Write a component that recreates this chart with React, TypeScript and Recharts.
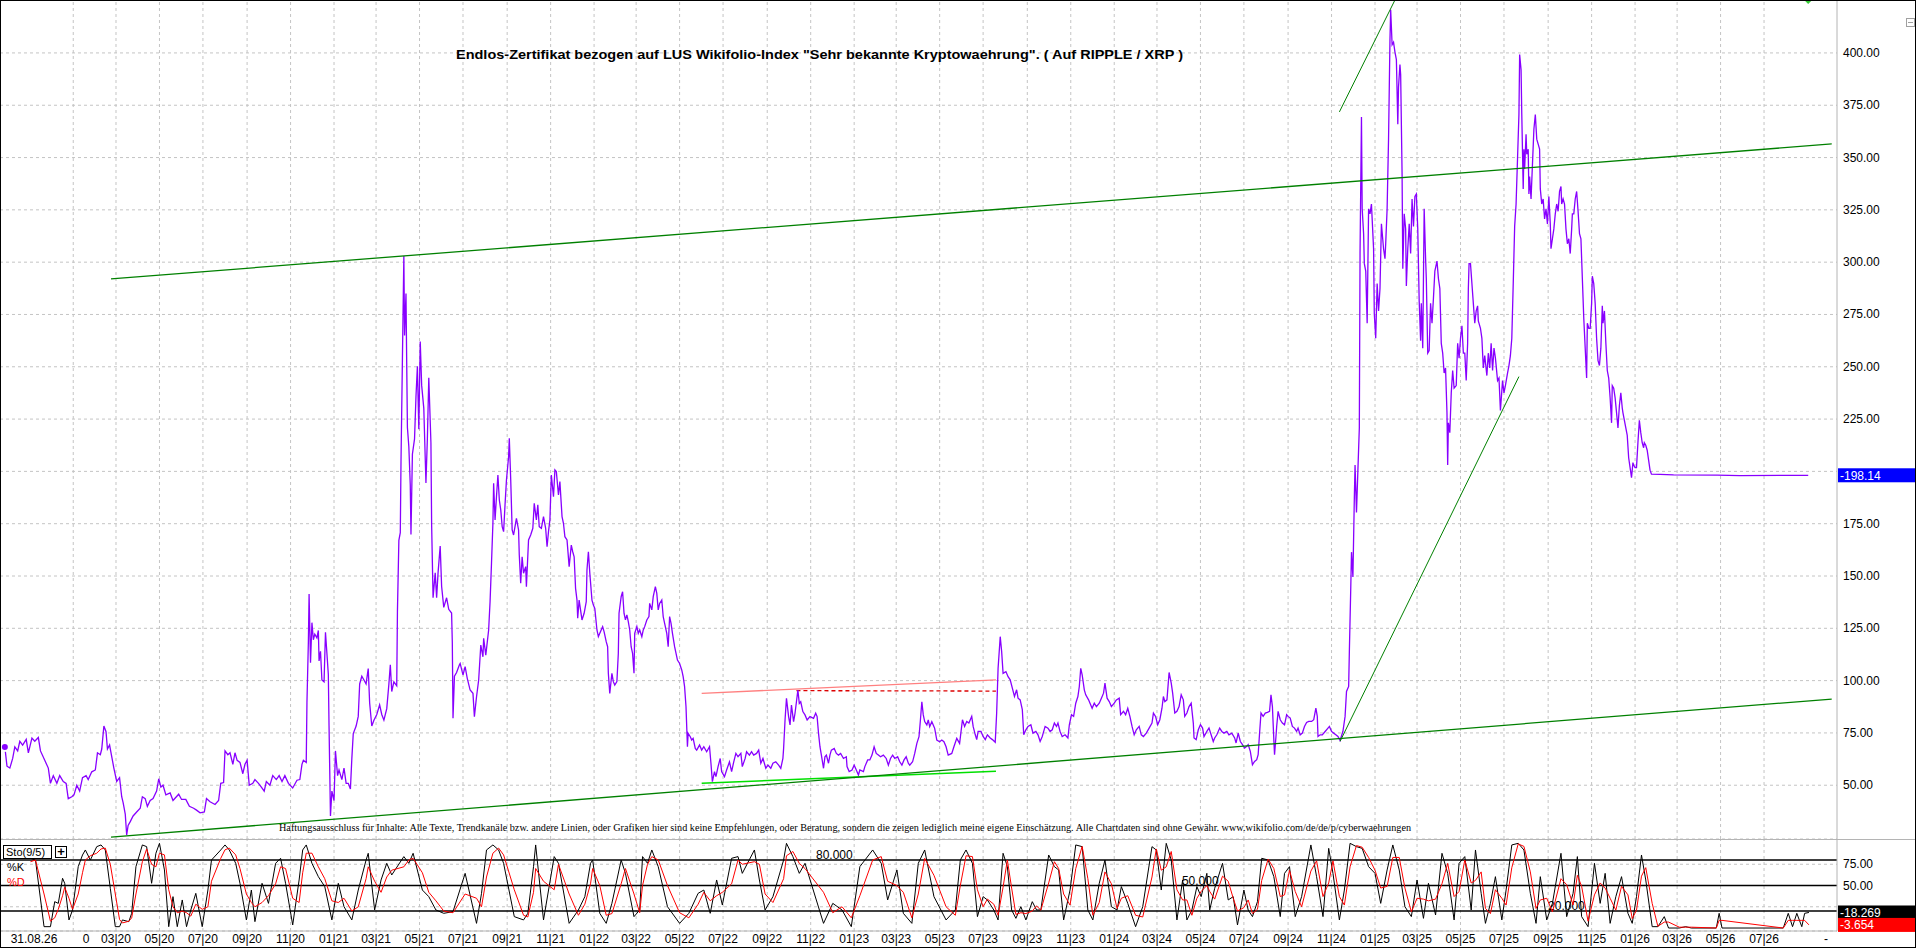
import React from "react";
import { LineChart, Line, XAxis, YAxis, CartesianGrid, ReferenceLine, ReferenceDot } from "recharts";

const W = 1916;
const MAIN_H = 839;
const STO_H = 109;
const AXIS_W = 79;
const FONT = '"Liberation Sans", Arial, sans-serif';

// x = days since 01.03.2020
const X_DOMAIN: [number, number] = [-162.8, 2415.4];
const PRICE_DOMAIN: [number, number] = [24.3, 425.3];
const STO_DOMAIN: [number, number] = [-3.5, 104.7];

const PRICE_TICKS = [50, 75, 100, 125, 150, 175, 200, 225, 250, 275, 300, 325, 350, 375, 400];
const STO_TICKS = [50, 75];
const LAST_PRICE = 198.14;
const LAST_K = 18.269;
const LAST_D = 3.654;

const MONTH_TICKS = [
  "03|20", "05|20", "07|20", "09|20", "11|20",
  "01|21", "03|21", "05|21", "07|21", "09|21", "11|21",
  "01|22", "03|22", "05|22", "07|22", "09|22", "11|22",
  "01|23", "03|23", "05|23", "07|23", "09|23", "11|23",
  "01|24", "03|24", "05|24", "07|24", "09|24", "11|24",
  "01|25", "03|25", "05|25", "07|25", "09|25", "11|25",
  "01|26", "03|26", "05|26", "07|26",
];
const EXTRA_TICKS: [number, string][] = [[-115, "31.08.26"], [-42, "0"], [2400, "-"]];

const TITLE = 'Endlos-Zertifikat bezogen auf LUS Wikifolio-Index "Sehr bekannte Kryptowaehrung". ( Auf RIPPLE / XRP )';
const DISCLAIMER =
  "Haftungsausschluss für Inhalte: Alle Texte, Trendkanäle bzw. andere Linien, oder Grafiken hier sind keine Empfehlungen, oder Beratung, sondern die zeigen lediglich meine eigene Einschätzung. Alle Chartdaten sind ohne Gewähr. www.wikifolio.com/de/de/p/cyberwaehrungen";

// price [day, value]
const price2019to21: [number, number][] = [
  [-156,68.3],[-153,59.1],[-149,58.2],[-145,62.8],[-142,68.3],[-138,66.4],[-135,71],[-131,69.2],[-126,71.9],[-123,65.5],
  [-118,72.5],[-114,71],[-109,72.8],[-106,66.4],[-100,61.9],[-95,58.2],[-92,50.9],[-88,54.6],[-83,50.9],[-79,54.6],
  [-74,51.8],[-70,50.9],[-67,43.6],[-62,44.5],[-59,45.4],[-55,50],[-51,47.2],[-47,53.6],[-42,54.6],[-39,52.7],
  [-34,56.4],[-29,57.3],[-26,65.5],[-22,64.6],[-20,67.3],[-17,78.3],[-14,75.6],[-12,67.3],[-9,69.2],[-6,63.7],
  [-3,58.2],[1,51.8],[5,53.6],[8,44.5],[10,41.7],[13,36.2],[15,26.2],[17,30.8],[20,32.6],[24,35.3],
  [29,37.2],[34,39],[37,44.5],[41,43.6],[44,39.9],[48,42.7],[52,43.6],[57,47.2],[60,53.1],[63,49.1],
  [66,50],[70,45.4],[76,46.3],[80,42.7],[88,45.7],[92,43.2],[98,43.2],[103,39.9],[109,39],[113,38.1],
  [118,36.8],[124,37.2],[127,43.6],[132,42.1],[139,40.8],[144,42.7],[147,50.9],[151,51.3],[153,66.4],[157,64.6],
  [160,65.5],[164,60],[167,65.5],[170,61.9],[174,60.9],[178,55.5],[181,60],[184,61.9],[187,50],[192,50.9],
  [195,52.7],[200,50.9],[204,49.1],[208,47.2],[211,51.8],[216,50],[220,54.6],[225,52.7],[229,54.6],[233,51.8],
  [237,54.6],[242,50.9],[248,48.7],[254,52.4],[258,52.7],[261,60],[263,61.9],[267,60.9],[268,89.3],[270,118.6],
  [271,141.4],[273,108.5],[275,127.7],[277,119.5],[279,122.2],[282,120.4],[284,124],[285,109.4],[287,114],[289,100.3],
  [292,99.4],[294,123.1],[296,113.1],[298,103],[299,78.3],[301,35.3],[303,47.2],[306,42.7],[308,66.4],[311,54.6],
  [313,57.3],[317,52.7],[320,58.2],[323,50.9],[326,50.9],[329,48.2],[331,62.8],[333,74.7],[337,78.3],[340,82.9],
  [342,98.4],[345,102.1],[348,100.3],[351,98.4],[354,105.8],[356,89.3],[359,78.3],[362,81.1],[366,83.8],[370,88.4],
  [373,83.8],[376,81.1],[380,86.6],[383,98.4],[385,107.6],[387,94.8],[390,99.4],[394,97.5],[395,133.2],[397,167],
  [399,170.7],[400,204.5],[402,253.9],[404,302.9],[405,264.9],[407,285],[408,252.1],[409,221],[411,211.8],[413,193.5],
  [414,169.8],[416,208.2],[419,215.5],[421,235.6],[423,250.2],[425,220.1],[427,262.1],[429,241.1],[432,230.1],[435,194.5],
  [437,215.5],[439,244.8],[442,213.7],[443,174.3],[445,139.6],[448,151.5],[450,139.6],[452,151.5],[455,164.3],[457,145.1],
  [460,135],[464,139.6],[467,134.1],[471,132.3],[472,118.6],[473,82],[475,102.1],[478,103.9],[482,107.6],
];

const price2021to23: [number, number][] = [
  [483,108.2],[487,102.7],[490,106.7],[493,101.1],[497,95.5],[501,93.9],[503,82.8],[506,92.3],[509,100.3],[512,117],
  [515,111.4],[516,120.2],[519,112.2],[523,124.2],[525,137.7],[527,156],[529,175.2],[530,194.3],[532,176.8],[534,187.9],
  [536,198.3],[538,186.3],[540,181.6],[542,173.6],[544,171.2],[546,184],[548,195.9],[551,207],[552,215.8],[554,195.9],
  [556,172],[558,169.6],[560,173.6],[562,177.6],[565,172],[566,160],[568,146.5],[570,159.2],[572,151.3],[575,154.5],
  [576,144.9],[579,167.2],[582,169.6],[585,172.8],[587,184.7],[590,176.8],[592,184],[594,173.6],[597,172.8],[600,178.4],
  [603,172.8],[605,164],[607,171.2],[609,176.8],[611,198.3],[614,187.9],[616,200.7],[618,199.9],[621,188.7],[623,195.1],
  [626,178.4],[628,175.2],[630,168.8],[633,167.2],[636,154.5],[639,164.8],[641,161.6],[643,159.2],[645,144.1],[647,138.5],
  [648,129.8],[650,138.5],[654,129],[657,132.2],[660,137.7],[661,152.9],[663,161.6],[665,151.3],[668,138.5],[670,136.1],
  [672,134.5],[675,124.2],[677,121],[679,122.6],[683,125.8],[685,123.4],[688,118.6],[690,116.2],[691,103.5],[693,93.9],
  [696,103.5],[698,99.5],[700,97.9],[703,99.5],[705,113],[706,132.2],[709,140.1],[711,142.5],[713,132.2],[715,129],
  [717,131.4],[719,128.2],[721,124.2],[723,116.2],[725,113],[727,103.5],[728,122.6],[731,125.8],[733,122.6],[735,124.2],
  [738,121],[740,124.2],[742,125.8],[745,129],[748,130.6],[749,136.9],[752,133.8],[754,140.1],[757,144.9],[759,141.7],
  [761,133.8],[763,136.9],[766,138.5],[768,130.6],[770,127.4],[773,122.6],[775,116.2],[777,130.6],[779,127.4],[781,122.6],
  [784,116.2],[786,113],[788,109.8],[791,108.2],[794,105.1],[796,101.9],[798,97.1],[800,87.5],[802,68.4],[803,74.8],
  [806,73.2],[808,71.6],[810,72.4],[813,67.6],[815,66.8],[819,69.2],[822,66.8],[825,68.4],[829,66],[833,68.4],
  [835,60.5],[837,51.7],[840,56.5],[842,54.1],[845,58.9],[848,62.8],[850,56.5],[854,54.1],[857,57.3],[861,61.2],
  [864,56.5],[867,61.2],[870,65.2],[873,63.6],[877,65.2],[879,58.9],[883,62.8],[885,66],[889,64.4],[892,66],
  [895,64.4],[899,65.2],[902,66.8],[905,60.5],[908,62.8],[912,58.1],[915,59.6],[919,58.1],[922,60.5],[926,61.2],
  [930,59.6],[933,58.1],[936,62.8],[937,67.6],[939,81.2],[941,91.5],[944,82.8],[946,78.8],[948,88.3],[951,80.4],
  [953,84.4],[955,89.9],[957,95.5],[959,89.1],[961,89.9],[964,85.2],[967,83.6],[970,81.2],[974,82.8],[979,82],
  [982,84.4],[984,82.8],[986,74.8],[988,68.4],[990,64.4],[993,58.1],[995,63.6],[997,64.4],[1000,60.5],[1002,64.4],
  [1004,66.8],[1008,67.6],[1011,65.2],[1014,64.4],[1017,65.2],[1021,62.8],[1025,63.6],[1026,58.9],[1029,56.5],[1033,57.3],
  [1036,59.6],[1039,57.3],[1042,54.9],[1044,57.3],[1049,56.5],[1051,58.9],[1055,62.1],[1058,62.1],[1061,64.4],[1064,68.4],
  [1067,65.2],[1070,64.4],[1073,63.6],[1077,64.4],[1081,62.8],[1084,59.6],[1087,62.8],[1090,64.4],[1093,62.8],[1097,63.6],
  [1100,61.2],[1103,59.6],[1106,62.1],[1109,63.6],[1112,60.5],[1114,59.6],[1118,61.2],[1121,65.2],[1124,70],[1127,73.2],
  [1129,81.2],[1131,89.9],[1133,83.6],[1135,80.4],[1138,78.8],[1140,81.2],[1142,78],[1145,80.4],[1147,78.8],[1149,77.2],
  [1152,71.6],[1156,70.8],[1159,71.6],[1162,70.8],[1165,68.4],[1168,64.4],[1173,65.2],[1176,68.4],[1180,72.4],[1184,70],
];

const price2023to24: [number, number][] = [
  [1188,81.3],[1191,78.1],[1194,80.5],[1197,79.7],[1201,82.9],[1203,78.1],[1206,74.1],[1208,71.8],[1210,75.7],[1214,75.7],
  [1217,73.3],[1220,71.8],[1223,74.1],[1227,72.6],[1230,71.8],[1234,70.5],[1236,84.5],[1238,105.9],[1241,121],[1243,113.9],
  [1245,103.5],[1249,104.3],[1252,101.9],[1255,100.4],[1258,96.4],[1261,92.4],[1264,95.6],[1266,91.6],[1269,90.8],[1272,86.1],
  [1274,74.1],[1277,76.5],[1280,78.1],[1284,78.9],[1287,74.9],[1291,75.7],[1294,74.1],[1297,70.9],[1300,73.3],[1304,78.1],
  [1308,77.3],[1311,75.7],[1314,76.5],[1317,79.7],[1320,78.1],[1322,79.7],[1325,75.7],[1328,73.3],[1332,74.1],[1336,72.6],
  [1338,78.9],[1341,83.7],[1344,82.9],[1347,89.2],[1350,92.4],[1352,97.2],[1354,105.9],[1356,102.8],[1359,95.6],[1361,93.2],
  [1365,90.8],[1367,89.2],[1370,86.8],[1373,89.2],[1376,87.6],[1380,89.2],[1383,91.6],[1386,94],[1388,98.8],[1391,91.6],
  [1394,90],[1397,87.6],[1401,89.2],[1404,90.8],[1408,91.6],[1410,83.7],[1414,85.3],[1417,83.7],[1420,86.8],[1423,82.9],
  [1426,78.1],[1429,74.1],[1432,76.5],[1436,78.1],[1439,74.1],[1442,73.3],[1446,74.9],[1450,77.3],[1454,79.7],[1456,84.5],
  [1459,82.9],[1462,78.9],[1465,81.3],[1468,86.8],[1470,92.4],[1472,90],[1475,90.8],[1478,103.9],[1481,98.8],[1483,94],
  [1486,84.5],[1489,85.3],[1492,87.6],[1495,93.2],[1498,90.8],[1500,82.9],[1503,84.5],[1506,87.6],[1509,89.2],[1512,79.7],
  [1513,72.6],[1516,71.8],[1519,76.5],[1522,78.9],[1525,77.3],[1527,73.3],[1531,75.7],[1534,77.3],[1537,74.1],[1540,70.9],
  [1542,72.6],[1545,74.1],[1549,77.3],[1552,75.7],[1555,74.9],[1559,75.7],[1562,74.1],[1566,74.9],[1570,72.6],[1572,70.2],
  [1575,74.9],[1578,70.9],[1581,69.4],[1584,67.8],[1587,68.6],[1589,69.4],[1592,66.2],[1595,59.8],[1598,61.4],[1601,62.2],
  [1603,64.6],[1605,74.9],[1607,84.5],[1610,82.9],[1613,84.5],[1616,84.8],[1619,85.3],[1621,93.2],[1623,87.6],[1625,71.8],
  [1626,64.6],[1628,73.3],[1629,78.1],[1631,85.3],[1634,81.3],[1637,79.7],[1640,78.9],[1643,83.7],[1645,82.9],[1648,82.1],
  [1651,78.1],[1654,77.3],[1657,75.7],[1659,77.3],[1662,74.1],[1665,74.9],[1668,78.1],[1671,80],[1674,80.5],[1678,80.5],
  [1681,81.3],[1684,86.8],[1686,82.9],[1687,73.3],[1690,74.1],[1693,74.1],[1697,75.7],[1701,77.3],[1703,78.1],[1706,75.7],
  [1709,74.9],[1712,74.1],[1715,73.3],[1718,71.4],
];

const price2024to26: [number, number][] = [
  [1722,75.8],[1725,82.9],[1727,94.8],[1730,97.2],[1731,113.8],[1733,144.7],[1734,161.4],[1736,149.5],[1738,187.5],[1739,203],
  [1741,180.4],[1743,200.6],[1745,220.8],[1746,304.1],[1748,369.4],[1749,325.5],[1751,313.6],[1752,299.3],[1754,295.7],[1756,270.8],
  [1758,325.5],[1760,323.1],[1762,327.8],[1765,306.4],[1766,275.5],[1768,263.6],[1770,289.8],[1772,276.7],[1774,287.4],[1776,318.3],
  [1779,306.4],[1781,301.7],[1782,308.8],[1784,325.5],[1786,358.8],[1788,406.3],[1789,420.6],[1791,403.9],[1793,405.1],[1795,400.4],
  [1797,396.8],[1799,365.9],[1800,383.7],[1802,394.4],[1803,389.7],[1805,342.1],[1806,296.9],[1808,323.1],[1810,315.9],[1811,288.6],
  [1813,306.4],[1815,318.3],[1817,304.1],[1819,330.2],[1821,317.1],[1823,331.4],[1825,332.6],[1827,315.9],[1829,281.5],[1831,262.4],
  [1832,280.3],[1834,258.9],[1836,325.5],[1838,301.7],[1839,292.2],[1841,256.5],[1843,257.7],[1845,280.3],[1847,270.8],[1849,282.7],
  [1851,295.7],[1854,300.5],[1856,292.2],[1858,287.4],[1860,261.2],[1862,256.5],[1864,247],[1866,249.4],[1868,228],[1869,203],
  [1870,223.2],[1872,218.5],[1874,237.5],[1876,248.2],[1878,239.8],[1881,241],[1883,261.2],[1885,254.1],[1887,263.6],[1889,269.6],
  [1891,256.5],[1893,256.5],[1895,243.4],[1897,261.2],[1898,287.4],[1899,299.3],[1901,299.3],[1903,289.8],[1905,280.3],[1907,270.8],
  [1909,276.7],[1911,279.1],[1912,271.9],[1915,268.4],[1917,263.6],[1919,249.4],[1921,255.3],[1924,245.8],[1926,256.5],[1928,249.4],
  [1930,261.2],[1932,248.2],[1934,258.9],[1936,254.1],[1939,243.4],[1941,244.6],[1943,229.1],[1946,243.4],[1948,237.5],[1950,241],
  [1953,247],[1955,250.6],[1957,255.3],[1959,263.6],[1961,289.8],[1963,317.1],[1965,327.8],[1967,349.2],[1969,370.6],[1970,399.2],
  [1972,392],[1973,370.6],[1975,335],[1976,354],[1977,344.5],[1979,361.1],[1980,351.6],[1982,354],[1983,332.6],[1984,340.9],
  [1986,330.2],[1988,346.9],[1990,363.5],[1992,370.6],[1994,358.8],[1996,356.4],[1998,354],[1999,335],[2001,327.8],[2003,330.2],
  [2005,320.7],[2007,325.5],[2009,318.3],[2011,331.4],[2013,318.3],[2014,306.4],[2016,311.2],[2018,315.9],[2020,323.1],[2022,327.8],
  [2024,324.3],[2026,333.8],[2028,336.2],[2029,327.8],[2031,330.2],[2033,327.8],[2035,315.9],[2037,308.8],[2039,311.2],[2041,304.1],
  [2043,315.9],[2044,323.1],[2046,323.1],[2048,330.2],[2050,333.8],[2052,324.3],[2054,313.6],[2056,311.2],[2057,301.7],[2059,282.7],
  [2060,273.2],[2062,258.9],[2064,244.6],[2065,270.8],[2067,268.4],[2069,268.4],[2071,280.3],[2072,293.3],[2074,289.8],[2076,280.3],
  [2078,263.6],[2080,252.9],[2082,250.6],[2084,258.9],[2086,279.1],[2087,270.8],[2089,276.7],[2091,261.2],[2093,248.2],[2095,244.6],
  [2097,235.1],[2099,223.2],[2100,241],[2102,239.8],[2104,235.1],[2106,228],[2108,220.8],[2110,231.5],[2112,237.5],[2114,230.3],
  [2115,228],[2117,224.4],[2119,220.8],[2121,217.2],[2123,206.5],[2125,201.8],[2127,197],[2129,204.2],[2130,203],[2132,201.8],
  [2134,201.8],[2136,213.7],[2138,224.4],[2140,218.5],[2142,213.7],[2144,211.3],[2145,213.7],[2147,212.5],[2149,210.1],[2151,205.4],
  [2153,200.6],[2155,198.7],[2167,198.6],[2186,198.3],[2247,198.2],[2279,198.0],[2342,198.1],[2375,198.14],
];

// Sto(9/5): [day, %K, %D]
const stochRows: [number, number, number][] = [
  [-120,82,78],[-113,80,80],[-101,1.6,40],[-92,1.6,8],[-86,31,12],[-81,29,22],[-75,58.5,38],[-72,52.6,48],[-66,9.5,35],[-61,21.2,22],
  [-53,72.2,40],[-47,85.9,65],[-43,91.8,80],[-36,80,85],[-27,95.7,88],[-21,97.7,93],[-15,91.8,94],[-8,46.7,75],[-1,1.6,40],[5,1.6,10],
  [9,9.5,6],[18,7.5,8],[22,17.3,12],[28,72.2,40],[37,97.7,78],[43,95.7,93],[50,52.6,75],[56,87.9,72],[61,99.6,88],[68,68.3,86],
  [74,1.6,45],[80,36.9,25],[86,1.6,18],[93,33,20],[99,1.6,18],[105,21.2,14],[112,40.8,28],[121,1.6,22],[129,44.7,25],[134,80,55],
  [147,91.8,82],[153,97.7,92],[159,91.8,94],[168,76.1,86],[174,52.6,70],[183,9.5,40],[190,44.7,30],[195,7.5,25],[205,52.6,30],[214,29,38],
  [224,76.1,52],[231,82,72],[238,52.6,70],[248,3.6,35],[257,56.5,30],[262,91.8,65],[267,97.7,88],[275,76.1,88],[284,60.4,72],[293,48.7,58],
  [303,9.5,32],[312,52.6,30],[320,25.1,35],[331,9.5,20],[340,44.7,25],[351,80,58],[354,87.9,72],[363,21.2,55],[372,56.5,42],[380,76.1,60],
  [387,62.4,68],[404,84,72],[411,76.1,80],[417,87.9,82],[430,44.7,65],[439,36.9,42],[449,21.2,32],[460,17.3,20],[473,19.3,18],[490,64.3,40],
  [506,5.5,35],[513,40.8,25],[520,91.8,60],[529,97.7,88],[537,91.8,94],[544,76.1,86],[559,13.4,45],[572,9.5,15],[578,17.3,13],[586,72.2,42],
  [589,97.7,70],[600,9.5,55],[615,84,45],[621,76.1,75],[636,5.5,40],[649,21.2,15],[658,36.9,28],[666,76.1,52],[669,80,70],[679,17.3,50],
  [688,5.5,15],[696,29,17],[709,80,52],[715,64.3,70],[727,13.4,40],[735,21.2,18],[739,84,50],[746,76.1,75],[752,91.8,84],[761,72.2,80],
  [774,25.1,50],[791,5.5,18],[804,17.3,12],[817,40.8,28],[825,44.7,42],[834,17.3,32],[843,56.5,38],[851,27.1,42],[864,82,52],[873,84,80],
  [879,64.3,75],[896,91.8,78],[903,56.5,75],[911,21.2,40],[922,36.9,30],[937,80,58],[941,99.6,85],[950,84,90],[959,64.3,76],[967,76.1,70],
  [993,5.5,42],[1006,29,18],[1019,21.2,25],[1032,1.6,12],[1044,72.2,38],[1062,91.8,80],[1074,76.1,84],[1083,33,55],[1096,68.3,50],[1105,17.3,42],
  [1117,5.5,12],[1126,76.1,40],[1135,91.8,82],[1148,36.9,62],[1165,9.5,25],[1178,21.2,15],[1185,80,50],[1193,91.8,85],[1202,76.1,84],[1209,13.4,45],
  [1217,36.9,25],[1223,33,34],[1232,21.2,28],[1238,9.5,15],[1245,87.9,48],[1251,72.2,80],[1257,21.2,47],[1263,11.4,16],[1270,25.1,18],[1277,9.5,17],
  [1286,31,20],[1292,21.2,26],[1298,21.2,21],[1309,85.9,53],[1317,72.2,78],[1323,68.3,70],[1330,9.5,40],[1339,44.7,27],[1347,97.7,70],[1356,95.7,96],
  [1364,21.2,58],[1371,9.5,15],[1380,52.6,30],[1388,80,66],[1397,25.1,52],[1405,21.2,23],[1411,48.7,35],[1420,29,38],[1431,1.6,15],[1441,25.1,13],
  [1454,95.7,60],[1460,91.8,93],[1467,44.7,68],[1474,99.6,72],[1481,80,90],[1489,9.5,45],[1497,56.5,33],[1503,9.5,33],[1510,21.2,15],[1517,48.7,35],
  [1523,36.9,43],[1531,64.3,50],[1535,21.2,43],[1542,46.7,34],[1553,76.1,61],[1561,33,55],[1568,36.9,35],[1574,3.6,20],[1583,44.7,24],[1589,21.2,33],
  [1595,13.4,17],[1602,31,22],[1608,82,56],[1617,80,81],[1625,60.4,70],[1634,13.4,37],[1640,64.3,39],[1647,72.2,68],[1655,13.4,43],[1664,36.9,25],
  [1677,97.7,67],[1685,60.4,79],[1694,13.4,37],[1702,93.7,53],[1708,64.3,79],[1717,9.5,37],[1724,44.7,27],[1732,99.6,72],[1741,95.7,97],[1749,93.7,95],
  [1758,72.2,83],[1767,64.3,68],[1775,29,47],[1784,68.3,49],[1792,97.7,83],[1801,68.3,83],[1809,25.1,47],[1818,13.4,19],[1826,56.5,35],[1835,11.4,34],
  [1842,52.6,32],[1852,15.3,34],[1861,87.9,52],[1869,64.3,76],[1878,9.5,37],[1885,76.1,43],[1893,84,80],[1902,21.2,53],[1908,91.8,56],[1916,40.8,66],
  [1922,5.5,23],[1929,29,17],[1936,60.4,45],[1945,9.5,35],[1951,44.7,27],[1959,97.7,71],[1968,99.6,99],[1976,91.8,96],[1985,40.8,66],[1993,5.5,23],
  [1999,60.4,33],[2008,9.5,35],[2016,29,19],[2028,87.9,58],[2036,13.4,51],[2045,40.8,27],[2051,84,62],[2057,13.4,49],[2066,1.6,8],[2075,76.1,39],
  [2083,29,53],[2090,64.3,47],[2097,5.5,35],[2105,36.9,21],[2113,60.4,49],[2122,17.3,39],[2128,5.5,11],[2134,36.9,21],[2141,85.9,61],[2147,56.5,71],
  [2156,1.6,29],[2164,1.6,2],[2173,13.4,7],[2179,0,7],[2194,0,1],[2203,1.6,1],[2211,0,1],[2246,0,0],[2250,17.3,9],[2254,0,9],
  [2340,0,0],[2347,17.3,9],[2353,1.6,9],[2359,17.3,9],[2366,1.6,9],[2370,17.3,9],[2376,18.3,3.7],
];

// trend lines drawn on the chart: [[day, value], [day, value]]
const upperChannel = [[-7, 292.0], [2408, 356.5]];
const lowerChannel = [[-7, 25.2], [2408, 91.2]];
const rallySupport = [[1718, 71.0], [1969, 245.3]];
const rallyTop = [[1717, 371.8], [1795, 425.3]];
const baseLine2022 = [[822, 50.9], [1235, 56.7]];
const resistance2022 = [[822, 93.9], [1235, 100.4]];
const resistanceDotted = [[955, 95.2], [1235, 95.0]];

const dayOf = (label: string) => {
  const [mm, yy] = label.split("|").map(Number);
  return Math.round((Date.UTC(2000 + yy, mm - 1, 1) - Date.UTC(2020, 2, 1)) / 86400000);
};

const gridDays = ["01|20", ...MONTH_TICKS].map(dayOf);
const tickLabels = new Map<number, string>();
MONTH_TICKS.forEach((m) => tickLabels.set(dayOf(m), m));
EXTRA_TICKS.forEach(([d, l]) => tickLabels.set(d, l));
const xTicks = Array.from(tickLabels.keys()).sort((a, b) => a - b);

const priceData = [...price2019to21, ...price2021to23, ...price2023to24, ...price2024to26].map(([day, price]) => ({ day, price }));
const stochData = stochRows.map(([day, k, d]) => ({ day, k, d }));

const seg = (s: number[][]) => [{ x: s[0][0], y: s[0][1] }, { x: s[1][0], y: s[1][1] }];

const GRID = "#c4c4c4";

// axis label of a tick is hidden when the last-value box sits on top of it
const makeAxisTick = (covered: number[], near: number) => (p: any) => {
  const v = Number(p.payload.value);
  if (covered.some((c) => Math.abs(c - v) < near)) return <g />;
  return (
    <text x={p.x} y={p.y} dy={4} textAnchor="start" fontSize={12} fontFamily={FONT} fill="#000">
      {v.toFixed(2)}
    </text>
  );
};
const priceTick = makeAxisTick([LAST_PRICE], 6);
const stochTick = makeAxisTick([LAST_K, LAST_D], 6);

const xTick = (p: any) => (
  <text x={p.x} y={p.y} dy={10} textAnchor="middle" fontSize={12} fontFamily={FONT} fill="#000">
    {tickLabels.get(p.payload.value) ?? ""}
  </text>
);

const valueBox = (text: string, bg: string) => (p: any) => {
  const vb = p.viewBox;
  const x = vb.x + vb.width;
  return (
    <g>
      <rect x={x + 1} y={vb.y - 7} width={AXIS_W - 2} height={14} fill={bg} />
      <text x={x + 3} y={vb.y + 4.5} fontSize={12} fontFamily={FONT} fill="#fff">
        {"-" + text}
      </text>
    </g>
  );
};

const lineLabel = (text: string, frac: number) => (p: any) => {
  const vb = p.viewBox;
  return (
    <text x={vb.x + vb.width * frac} y={vb.y - 1} fontSize={12} fontFamily={FONT} fill="#000">
      {text}
    </text>
  );
};

export default function App() {
  return (
    <div style={{ position: "absolute", left: 0, top: 0, width: W, height: 948, background: "#fff", overflow: "hidden" }}>
      <div style={{ position: "absolute", left: 0, top: 0 }}>
        <LineChart width={W} height={MAIN_H} data={priceData} margin={{ top: 0, right: 0, bottom: 0, left: 0 }}>
          <XAxis type="number" dataKey="day" domain={X_DOMAIN} hide allowDataOverflow />
          <YAxis
            orientation="right"
            type="number"
            domain={PRICE_DOMAIN}
            ticks={PRICE_TICKS}
            width={AXIS_W}
            allowDataOverflow
            interval={0}
            tickSize={0}
            tickMargin={6}
            tickLine={false}
            axisLine={{ stroke: "#b4b4b4" }}
            tick={priceTick}
          />
          <CartesianGrid vertical={false} stroke={GRID} strokeDasharray="3 3" />
          {gridDays.map((d) => (
            <ReferenceLine key={d} x={d} stroke={GRID} strokeDasharray="3 3" />
          ))}
          <ReferenceLine segment={seg(resistance2022)} stroke="#ff8080" strokeWidth={1.3} ifOverflow="visible" />
          <ReferenceLine segment={seg(resistanceDotted)} stroke="#dd0000" strokeWidth={1.3} strokeDasharray="4 3" ifOverflow="visible" />
          <ReferenceLine segment={seg(baseLine2022)} stroke="#00e000" strokeWidth={1.5} ifOverflow="visible" />
          <Line type="linear" dataKey="price" stroke="#8800ff" strokeWidth={1.3} dot={false} isAnimationActive={false} />
          <ReferenceLine segment={seg(upperChannel)} stroke="#008000" strokeWidth={1.3} ifOverflow="visible" />
          <ReferenceLine segment={seg(lowerChannel)} stroke="#008000" strokeWidth={1.3} ifOverflow="visible" />
          <ReferenceLine segment={seg(rallySupport)} stroke="#008000" strokeWidth={1} ifOverflow="visible" />
          <ReferenceLine segment={seg(rallyTop)} stroke="#008000" strokeWidth={1} ifOverflow="visible" />
          <ReferenceLine y={LAST_PRICE} stroke="none" label={valueBox(LAST_PRICE.toFixed(2), "#0000ff")} />
          <ReferenceDot
            x={2375}
            y={PRICE_DOMAIN[1]}
            ifOverflow="visible"
            shape={(p: any) => (
              <polygon points={`${p.cx - 4},${p.cy} ${p.cx + 4},${p.cy} ${p.cx},${p.cy + 4}`} fill="#33cc33" />
            )}
          />
        </LineChart>
      </div>

      <div style={{ position: "absolute", left: 0, top: MAIN_H }}>
        <LineChart width={W} height={STO_H} data={stochData} margin={{ top: 0, right: 0, bottom: 0, left: 0 }}>
          <XAxis
            type="number"
            dataKey="day"
            domain={X_DOMAIN}
            ticks={xTicks}
            interval={0}
            height={STO_H - 92}
            allowDataOverflow
            tickSize={0}
            tickMargin={2}
            tickLine={false}
            axisLine={{ stroke: "#b4b4b4" }}
            tick={xTick}
          />
          <YAxis
            orientation="right"
            type="number"
            domain={STO_DOMAIN}
            ticks={STO_TICKS}
            width={AXIS_W}
            allowDataOverflow
            interval={0}
            tickSize={0}
            tickMargin={6}
            tickLine={false}
            axisLine={{ stroke: "#b4b4b4" }}
            tick={stochTick}
          />
          <CartesianGrid vertical={false} stroke={GRID} strokeDasharray="3 3" />
          {gridDays.map((d) => (
            <ReferenceLine key={d} x={d} stroke={GRID} strokeDasharray="3 3" />
          ))}
          <ReferenceLine y={25} stroke={GRID} strokeDasharray="3 3" />
          <ReferenceLine y={80} stroke="#000" strokeWidth={1.5} label={lineLabel("80.000", 0.4442)} />
          <ReferenceLine y={50} stroke="#000" strokeWidth={1.5} label={lineLabel("50.000", 0.6434)} />
          <ReferenceLine y={20} stroke="#000" strokeWidth={1.5} label={lineLabel("20.000", 0.8427)} />
          <Line type="linear" dataKey="k" stroke="#000" strokeWidth={1} dot={false} isAnimationActive={false} />
          <Line type="linear" dataKey="d" stroke="#ff0000" strokeWidth={1} dot={false} isAnimationActive={false} />
          <ReferenceLine y={LAST_K} stroke="none" label={valueBox(LAST_K.toFixed(3), "#000")} />
          <ReferenceLine y={LAST_D} stroke="none" label={valueBox(LAST_D.toFixed(3), "#ff0000")} />
        </LineChart>
      </div>

      <svg width={W} height={948} style={{ position: "absolute", left: 0, top: 0, pointerEvents: "none" }}>
        <text x={456} y={59} fontSize={13.5} fontWeight="bold" fontFamily={FONT} fill="#000" textLength={727} lengthAdjust="spacingAndGlyphs">
          {TITLE}
        </text>
        <text x={279} y={831} fontSize={11} fontFamily='"Liberation Serif", "Times New Roman", serif' fill="#000" textLength={1132} lengthAdjust="spacingAndGlyphs">
          {DISCLAIMER}
        </text>
        <line x1={0} y1={MAIN_H + 0.5} x2={W} y2={MAIN_H + 0.5} stroke="#b4b4b4" />
        <rect x={3.5} y={845.5} width={48} height={13} fill="#fff" stroke="#000" />
        <text x={6} y={856} fontSize={11} fontFamily={FONT} fill="#000">Sto(9/5)</text>
        <rect x={55.5} y={846.5} width={11} height={11} fill="#fff" stroke="#000" />
        <text x={61} y={856} fontSize={13} fontWeight="bold" fontFamily={FONT} fill="#000" textAnchor="middle">+</text>
        <text x={7} y={871} fontSize={11} fontFamily={FONT} fill="#000">%K</text>
        <text x={7} y={886} fontSize={11} fontFamily={FONT} fill="#ff0000">%D</text>
        <rect x={1906.5} y={18.5} width={8} height={8} fill="#fff" stroke="#a0a0a0" />
        <line x1={1908} y1={22.5} x2={1913} y2={22.5} stroke="#a0a0a0" />
        <rect x={0.5} y={0.5} width={W - 1} height={947} fill="none" stroke="#000" />
      </svg>
    </div>
  );
}
